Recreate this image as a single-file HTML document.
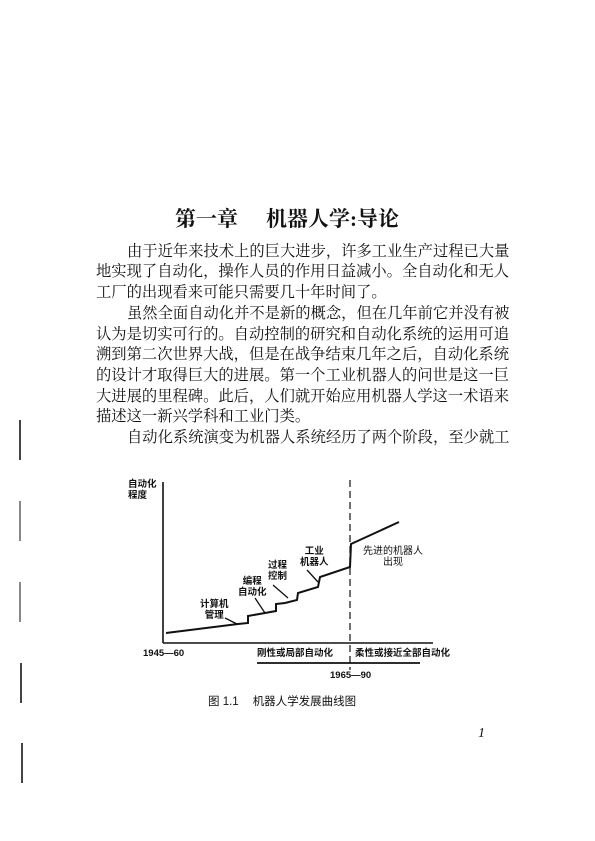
<!DOCTYPE html>
<html><head><meta charset="utf-8"><style>
body{margin:0;background:#fff;}
#p{position:relative;width:595px;height:841px;overflow:hidden;background:#fff;font-family:"Liberation Serif","Noto Serif CJK SC",serif;color:#111;}
.l{position:absolute;left:96px;width:404px;font-size:15.3px;line-height:20px;text-align:justify;text-align-last:justify;white-space:nowrap;}
.t{position:absolute;font-family:"Liberation Sans","Noto Sans CJK SC",sans-serif;font-size:9.5px;font-weight:bold;line-height:11px;white-space:nowrap;color:#111;}
.bar{position:absolute;left:19px;width:2px;height:40px;background:#444;}
</style></head><body><div id="p">
<div style="position:absolute;left:175px;top:203px;font-size:21px;font-weight:bold;font-family:'Liberation Serif','Noto Serif CJK SC',serif;white-space:nowrap;">第一章<span style="display:inline-block;width:28px"></span>机器人学:导论</div>
<div class="l" style="top:242px;padding-left:31px;width:373px">由于近年来技术上的巨大进步，许多工业生产过程已大量</div>
<div class="l" style="top:262px">地实现了自动化，操作人员的作用日益减小。全自动化和无人</div>
<div class="l" style="top:283px;text-align-last:left">工厂的出现看来可能只需要几十年时间了。</div>
<div class="l" style="top:304px;padding-left:31px;width:373px">虽然全面自动化并不是新的概念，但在几年前它并没有被</div>
<div class="l" style="top:325px">认为是切实可行的。自动控制的研究和自动化系统的运用可追</div>
<div class="l" style="top:345px">溯到第二次世界大战，但是在战争结束几年之后，自动化系统</div>
<div class="l" style="top:366px">的设计才取得巨大的进展。第一个工业机器人的问世是这一巨</div>
<div class="l" style="top:387px">大进展的里程碑。此后，人们就开始应用机器人学这一术语来</div>
<div class="l" style="top:407px;text-align-last:left">描述这一新兴学科和工业门类。</div>
<div class="l" style="top:428px;padding-left:31px;width:373px">自动化系统演变为机器人系统经历了两个阶段，至少就工</div>
<svg style="position:absolute;left:0;top:0" width="595" height="841">
<g stroke="#111" fill="none" stroke-width="1.6">
<line x1="163" y1="482" x2="163" y2="643"/>
<line x1="163" y1="643" x2="433" y2="643"/>
<line x1="350" y1="480" x2="350" y2="670" stroke-dasharray="7,4" stroke-width="1.2"/>
<polyline stroke-width="2" points="166,633 238,624 248,623 248,616 265,613 276,611 276,604 285,603 297,600 298,593 318,587 320,577 350,567 351,544 399,522"/>
<line x1="225" y1="618" x2="237" y2="624" stroke-width="1.3"/>
<line x1="255" y1="598" x2="265" y2="613" stroke-width="1.3"/>
<line x1="273" y1="585" x2="288" y2="598" stroke-width="1.3"/>
<line x1="307" y1="570" x2="318" y2="582" stroke-width="1.3"/>
<line x1="257" y1="663" x2="420" y2="663" stroke-width="1.8"/>
</g></svg>
<div class="t" style="left:128px;top:479px">自动化<br>程度</div>
<div class="t" style="left:200px;top:599px;text-align:center">计算机<br>管理</div>
<div class="t" style="left:238px;top:576px;text-align:center">编程<br>自动化</div>
<div class="t" style="left:268px;top:560px;text-align:center">过程<br>控制</div>
<div class="t" style="left:300px;top:546px;text-align:center">工业<br>机器人</div>
<div class="t" style="left:363px;top:546px;text-align:center;font-size:10px;font-weight:normal">先进的机器人<br>出现</div>
<div class="t" style="left:143px;top:648px">1945—60</div>
<div class="t" style="left:257px;top:648px">刚性或局部自动化</div>
<div class="t" style="left:355px;top:648px">柔性或接近全部自动化</div>
<div class="t" style="left:330px;top:670px">1965—90</div>
<div style="position:absolute;left:208px;top:693px;font-size:11.5px;font-family:'Liberation Sans','Noto Sans CJK SC',sans-serif;white-space:nowrap">图 1.1<span style="display:inline-block;width:14px"></span>机器人学发展曲线图</div>
<div style="position:absolute;left:478px;top:726px;font-size:14px;font-style:italic">1</div>
<div class="bar" style="top:420px"></div>
<div class="bar" style="top:501px;background:#888"></div>
<div class="bar" style="top:582px;background:#888"></div>
<div class="bar" style="top:663px;left:20px"></div>
<div class="bar" style="top:743px;left:21px"></div>
</div></body></html>
